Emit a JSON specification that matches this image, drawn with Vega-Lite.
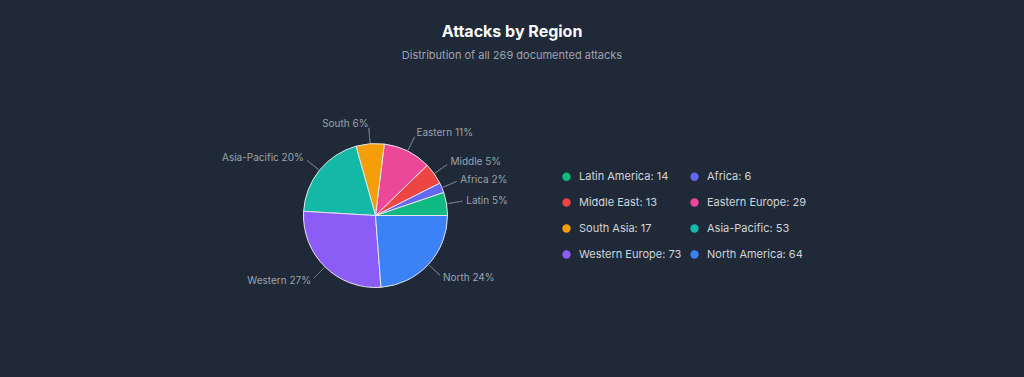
{
  "$schema": "https://vega.github.io/schema/vega-lite/v6.json",
  "width": 751,
  "height": 261,
  "autosize": {"type": "none"},
  "padding": {"left": 0, "top": 85, "right": 273, "bottom": 31},
  "background": "#1f2937",
  "config": {"view": {"stroke": null}, "font": "Inter"},
  "title": {
    "text": "Attacks by Region",
    "subtitle": "Distribution of all 269 documented attacks",
    "anchor": "middle",
    "frame": "group",
    "dx": 136.5,
    "offset": 24,
    "font": "Inter",
    "fontSize": 16,
    "fontWeight": 700,
    "color": "#f9fafb",
    "subtitleFont": "Inter",
    "subtitleFontSize": 11,
    "subtitleColor": "#9ca3af",
    "subtitlePadding": 10
  },
  "data": {
    "values": [
      {"region": "Latin America", "count": 14, "short": "Latin 5%", "entry": "Latin America: 14"},
      {"region": "Africa", "count": 6, "short": "Africa 2%", "entry": "Africa: 6"},
      {"region": "Middle East", "count": 13, "short": "Middle 5%", "entry": "Middle East: 13"},
      {"region": "Eastern Europe", "count": 29, "short": "Eastern 11%", "entry": "Eastern Europe: 29"},
      {"region": "South Asia", "count": 17, "short": "South 6%", "entry": "South Asia: 17"},
      {"region": "Asia-Pacific", "count": 53, "short": "Asia-Pacific 20%", "entry": "Asia-Pacific: 53"},
      {"region": "Western Europe", "count": 73, "short": "Western 27%", "entry": "Western Europe: 73"},
      {"region": "North America", "count": 64, "short": "North 24%", "entry": "North America: 64"}
    ]
  },
  "transform": [{"window": [{"op": "row_number", "as": "rn"}]}],
  "encoding": {
    "theta": {"field": "count", "type": "quantitative", "stack": true, "scale": {"range": [1.5707963, -4.712389]}},
    "order": {"field": "rn", "type": "quantitative"}
  },
  "layer": [
    {
      "mark": {"type": "arc", "outerRadius": 72, "stroke": "#e5e7eb", "strokeWidth": 1},
      "encoding": {
        "color": {
          "field": "entry",
          "type": "nominal",
          "scale": {
            "domain": ["Latin America: 14", "Middle East: 13", "South Asia: 17", "Western Europe: 73", "Africa: 6", "Eastern Europe: 29", "Asia-Pacific: 53", "North America: 64"],
            "range": ["#10b981", "#ef4444", "#f59e0b", "#8b5cf6", "#6366f1", "#ec4899", "#14b8a6", "#3b82f6"]
          },
          "legend": {
            "orient": "none",
            "legendX": 561,
            "legendY": 86,
            "columns": 2,
            "title": null,
            "symbolType": "circle",
            "symbolSize": 70,
            "symbolStrokeWidth": 0,
            "symbolOpacity": 1,
            "labelFont": "Inter",
            "labelFontSize": 11,
            "labelColor": "#d1d5db",
            "labelOffset": 7,
            "rowPadding": 14,
            "columnPadding": 7,
            "padding": 0
          }
        }
      }
    },
    {
      "mark": {"type": "arc", "outerRadius": 88, "innerRadius": 73, "padAngle": 3.1, "filled": false, "stroke": "#6b7280", "strokeWidth": 1}
    },
    {
      "mark": {"type": "text", "radius": 92, "align": "left", "baseline": "middle", "fontSize": 10, "color": "#9ca3af", "font": "Inter"},
      "encoding": {
        "text": {"condition": {"test": {"field": "region", "oneOf": ["Latin America", "Africa", "Middle East", "Eastern Europe", "North America"]}, "field": "short"}, "value": ""}
      }
    },
    {
      "mark": {"type": "text", "radius": 92, "align": "right", "baseline": "middle", "fontSize": 10, "color": "#9ca3af", "font": "Inter"},
      "encoding": {
        "text": {"condition": {"test": {"field": "region", "oneOf": ["South Asia", "Asia-Pacific", "Western Europe"]}, "field": "short"}, "value": ""}
      }
    }
  ]
}
